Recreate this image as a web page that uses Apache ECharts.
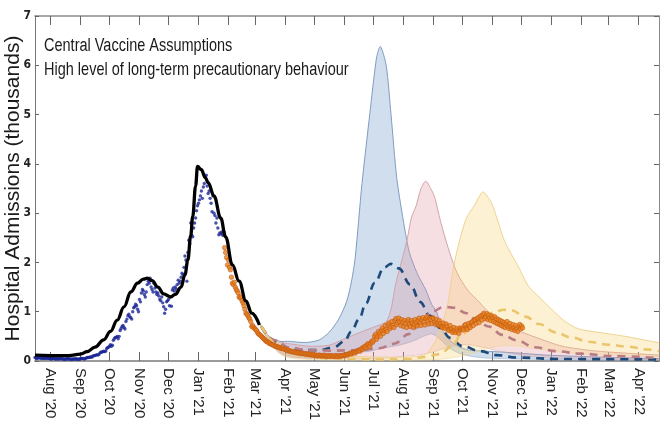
<!DOCTYPE html>
<html>
<head>
<meta charset="utf-8">
<script src="https://cdn.jsdelivr.net/npm/echarts@6/dist/echarts.min.js"></script>
<style>
  html, body { margin: 0; padding: 0; background: #fff; }
  #chart { width: 662px; height: 426px; }
</style>
</head>
<body>
<div id="chart"></div>
<script>
// Month ticks on the date axis
const monthTicks = ['2020-08-01','2020-09-01','2020-10-01','2020-11-01','2020-12-01','2021-01-01','2021-02-01',
  '2021-03-01','2021-04-01','2021-05-01','2021-06-01','2021-07-01','2021-08-01','2021-09-01','2021-10-01',
  '2021-11-01','2021-12-01','2022-01-01','2022-02-01','2022-03-01','2022-04-01'];
const monthLabels = ["Aug '20","Sep '20","Oct '20","Nov '20","Dec '20","Jan '21","Feb '21","Mar '21","Apr '21",
  "May '21","Jun '21","Jul '21","Aug '21","Sep '21","Oct '21","Nov '21","Dec '21","Jan '22","Feb '22","Mar '22","Apr '22"];

// Daily admissions (thousands), first data set, starting 2020-07-16
const earlyStart = '2020-07-16';
const earlyAdmissions = [
  0.07,0.06,0.05,0.06,0.07,0.06,0.06,0.05,0.06,0.05,0.05,0.06,0.06,0.05,0.05,0.05,
  0.05,0.04,0.05,0.05,0.05,0.04,0.04,0.05,0.04,0.04,0.05,0.05,0.04,0.04,0.04,0.03,0.04,0.05,0.04,0.04,
  0.04,0.04,0.03,0.04,0.04,0.04,0.04,0.04,0.04,0.03,0.04,
  0.05,0.05,0.05,0.05,0.04,0.05,0.06,0.07,0.07,0.07,0.08,0.08,0.08,0.10,0.11,0.11,0.12,0.13,0.12,0.13,
  0.16,0.18,0.18,0.19,0.20,0.19,0.20,0.25,0.27,0.28,
  0.30,0.33,0.30,0.32,0.42,0.45,0.48,0.48,0.50,0.45,0.50,0.62,0.66,0.70,0.72,0.68,0.65,0.80,0.85,0.92,
  0.95,0.90,0.88,0.85,1.00,1.08,1.10,1.15,1.12,1.05,1.00,
  1.25,1.20,1.38,1.45,1.42,1.35,1.30,1.40,1.55,1.62,1.58,1.68,1.50,1.45,1.40,1.58,1.48,1.40,1.35,1.38,
  1.32,1.25,1.22,1.30,1.18,1.10,0.97,1.05,1.20,1.22,
  1.25,1.12,1.30,1.11,1.44,1.48,1.42,1.50,1.46,1.55,1.64,1.58,1.62,1.70,1.78,1.75,1.90,2.13,2.05,1.62,
  2.20,2.45,2.38,2.80,2.55,2.52,2.70,2.80,2.90,3.05,3.15,
  3.20,3.27,3.35,3.45,3.30,3.53,3.60,3.73,3.77,3.55,3.40,3.45,3.30,3.20,3.03,3.35,3.00,2.95,2.80,2.90,
  2.70,2.56,2.60,2.58,2.62,2.55
];

// Daily admissions (thousands), later data set, starting 2021-01-27
const laterStart = '2021-01-27';
const laterAdmissions = [
  2.60,2.30,2.20,2.10,1.95,
  2.05,1.90,1.85,1.70,1.58,1.55,1.60,1.50,1.45,1.42,1.38,1.30,1.28,1.30,1.22,1.18,1.12,1.05,0.97,0.95,
  0.92,0.88,0.85,0.80,0.70,0.72,0.68,0.66,
  0.64,0.62,0.58,0.55,0.54,0.52,0.50,0.48,0.46,0.44,0.42,0.40,0.39,0.38,0.36,0.36,0.34,0.33,0.33,0.32,
  0.30,0.30,0.29,0.28,0.28,0.27,0.26,0.25,0.26,0.25,0.24,
  0.23,0.22,0.21,0.22,0.20,0.20,0.19,0.19,0.18,0.19,0.18,0.17,0.17,0.16,0.17,0.16,0.15,0.15,0.16,0.15,
  0.14,0.14,0.15,0.13,0.14,0.13,0.13,0.12,0.13,0.12,
  0.12,0.11,0.12,0.10,0.11,0.12,0.10,0.11,0.10,0.11,0.12,0.10,0.09,0.10,0.11,0.10,0.09,0.11,0.10,0.10,
  0.09,0.10,0.11,0.10,0.09,0.10,0.11,0.10,0.10,0.11,0.12,
  0.11,0.12,0.13,0.12,0.14,0.15,0.16,0.14,0.16,0.17,0.18,0.16,0.19,0.20,0.22,0.21,0.20,0.24,0.26,0.24,
  0.28,0.30,0.27,0.32,0.35,0.33,0.30,0.36,0.40,0.38,
  0.42,0.50,0.54,0.44,0.50,0.60,0.55,0.50,0.62,0.67,0.56,0.62,0.72,0.64,0.60,0.74,0.77,0.66,0.70,0.80,
  0.72,0.68,0.82,0.86,0.74,0.78,0.87,0.80,0.72,0.84,0.78,
  0.70,0.82,0.76,0.68,0.80,0.84,0.74,0.70,0.82,0.77,0.68,0.74,0.84,0.78,0.71,0.82,0.87,0.77,0.72,0.84,
  0.88,0.79,0.73,0.86,0.90,0.81,0.75,0.87,0.84,0.76,0.88,
  0.86,0.79,0.74,0.84,0.77,0.72,0.82,0.76,0.70,0.68,0.77,0.70,0.66,0.75,0.70,0.64,0.62,0.72,0.65,0.60,
  0.58,0.68,0.62,0.58,0.66,0.61,0.56,0.67,0.63,0.66,
  0.66,0.63,0.72,0.74,0.66,0.64,0.76,0.71,0.68,0.78,0.80,0.72,0.82,0.84,0.76,0.86,0.88,0.78,0.90,0.92,
  0.83,0.94,0.97,0.86,0.90,0.96,0.84,0.93,0.87,0.82,0.92,
  0.88,0.80,0.90,0.78,0.86,0.76,0.84,0.74,0.82,0.72,0.80,0.70,0.78,0.68,0.75,0.80,0.70,0.66,0.76,0.69,
  0.64,0.74,0.67,0.62,0.72,0.65,0.60,0.70,0.74,0.65,
  0.71,0.67
];

// Model fit to the second wave
const fitDates = ['2020-07-16','2020-08-01','2020-08-20','2020-09-01','2020-09-08','2020-09-16','2020-09-25',
  '2020-10-02','2020-10-09','2020-10-16','2020-10-23','2020-10-30','2020-11-05','2020-11-09','2020-11-14',
  '2020-11-20','2020-11-26','2020-12-03','2020-12-08','2020-12-14','2020-12-18','2020-12-21','2020-12-24',
  '2020-12-26','2020-12-29','2020-12-31','2021-01-04','2021-01-08','2021-01-11','2021-01-17','2021-01-24',
  '2021-01-29','2021-02-05','2021-02-12','2021-02-19','2021-02-25','2021-03-05'];
const fitValues = [0.12,0.11,0.11,0.14,0.19,0.28,0.43,0.60,0.83,1.10,1.40,1.58,1.66,1.68,1.63,1.50,1.36,1.30,
  1.35,1.50,1.75,2.05,2.55,2.93,3.55,3.95,3.88,3.72,3.62,3.35,2.90,2.52,1.95,1.62,1.22,0.97,0.73];

// Scenario A (blue): 90% interval
const scenADates = ['2021-03-06','2021-03-15','2021-03-26','2021-04-05','2021-04-15','2021-04-25','2021-05-06',
  '2021-05-16','2021-05-26','2021-06-03','2021-06-08','2021-06-12','2021-06-19','2021-06-27','2021-07-04',
  '2021-07-08','2021-07-14','2021-07-19','2021-07-25','2021-08-02','2021-08-07','2021-08-15','2021-08-24',
  '2021-08-30','2021-09-04','2021-09-10','2021-09-17','2021-09-27','2021-10-08','2021-10-25','2021-11-28',
  '2021-12-26','2022-02-19','2022-04-22'];
const scenALow = [0.70,0.40,0.18,0.10,0.07,0.06,0.06,0.07,0.09,0.11,0.13,0.15,0.18,0.20,0.23,0.25,0.27,0.29,
  0.31,0.35,0.38,0.44,0.52,0.55,0.50,0.40,0.27,0.16,0.10,0.06,0.04,0.03,0.02,0.02];
const scenAHigh = [0.74,0.50,0.40,0.40,0.38,0.38,0.43,0.58,0.85,1.20,1.60,2.10,3.60,5.00,6.15,6.38,6.00,5.00,
  3.70,2.70,2.20,1.78,1.44,1.15,1.00,0.63,0.43,0.29,0.22,0.20,0.16,0.12,0.08,0.05];

// Scenario B (red): 90% interval
const scenBDates = ['2021-03-06','2021-03-15','2021-03-26','2021-04-05','2021-04-25','2021-05-16','2021-06-03',
  '2021-06-30','2021-07-14','2021-07-19','2021-07-24','2021-07-31','2021-08-05','2021-08-09','2021-08-14',
  '2021-08-19','2021-08-24','2021-08-29','2021-09-02','2021-09-08','2021-09-16','2021-09-25','2021-10-06',
  '2021-10-16','2021-10-26','2021-11-08','2021-11-26','2021-12-17','2022-01-12','2022-02-17','2022-04-22'];
const scenBLow = [0.70,0.40,0.16,0.08,0.05,0.04,0.04,0.05,0.06,0.07,0.08,0.09,0.10,0.11,0.12,0.13,0.15,0.17,
  0.19,0.23,0.28,0.32,0.33,0.30,0.26,0.20,0.13,0.08,0.05,0.04,0.03];
const scenBHigh = [0.74,0.50,0.38,0.35,0.30,0.32,0.47,0.68,0.80,1.05,1.58,2.10,2.50,2.90,3.15,3.50,3.65,3.50,
  3.33,2.85,2.30,1.80,1.44,1.24,1.03,0.83,0.63,0.47,0.30,0.20,0.12];

// Scenario C (yellow): 90% interval
const scenCDates = ['2021-03-06','2021-03-15','2021-03-26','2021-04-05','2021-04-25','2021-05-26','2021-07-07',
  '2021-08-07','2021-08-24','2021-09-04','2021-09-15','2021-09-21','2021-09-28','2021-10-05','2021-10-13',
  '2021-10-22','2021-10-31','2021-11-07','2021-11-13','2021-11-18','2021-11-28','2021-12-08','2021-12-19',
  '2022-01-01','2022-01-15','2022-01-29','2022-02-19','2022-03-18','2022-04-14','2022-04-22'];
const scenCLow = [0.70,0.38,0.14,0.06,0.03,0.02,0.02,0.02,0.02,0.03,0.05,0.07,0.09,0.12,0.16,0.22,0.27,0.30,
  0.31,0.31,0.30,0.27,0.24,0.20,0.17,0.15,0.13,0.11,0.09,0.09];
const scenCHigh = [0.74,0.48,0.36,0.25,0.15,0.10,0.08,0.08,0.14,0.45,1.10,1.85,2.45,2.90,3.15,3.43,3.20,2.80,
  2.45,2.25,1.90,1.52,1.30,1.05,0.80,0.65,0.58,0.50,0.40,0.37];

// Scenario medians
const medADates = ['2021-03-07','2021-03-21','2021-04-05','2021-04-20','2021-05-06','2021-05-21','2021-06-01',
  '2021-06-08','2021-06-16','2021-06-23','2021-07-02','2021-07-12','2021-07-19','2021-07-27','2021-08-08',
  '2021-08-18','2021-08-28','2021-09-08','2021-09-18','2021-10-01','2021-10-19','2021-11-05','2021-11-26',
  '2022-01-08','2022-04-22'];
const medAValues = [0.70,0.40,0.26,0.22,0.22,0.28,0.40,0.60,0.85,1.17,1.58,1.90,1.97,1.88,1.55,1.20,0.92,
  0.67,0.47,0.30,0.20,0.12,0.07,0.04,0.03];
const medBDates = ['2021-03-07','2021-03-21','2021-04-05','2021-04-25','2021-05-16','2021-06-16','2021-07-07',
  '2021-07-22','2021-08-07','2021-08-19','2021-08-30','2021-09-12','2021-09-22','2021-10-05','2021-10-16',
  '2021-10-28','2021-11-11','2021-11-26','2021-12-14','2022-01-06','2022-01-30','2022-03-05','2022-04-22'];
const medBValues = [0.70,0.42,0.27,0.22,0.21,0.22,0.26,0.35,0.55,0.80,1.00,1.10,1.08,0.97,0.82,0.70,0.53,
  0.42,0.28,0.20,0.15,0.10,0.06];
const medCDates = ['2021-03-07','2021-03-26','2021-04-15','2021-05-16','2021-07-07','2021-08-07','2021-08-24',
  '2021-09-07','2021-09-20','2021-09-30','2021-10-18','2021-11-04','2021-11-12','2021-11-20','2021-12-05',
  '2021-12-19','2022-01-05','2022-01-21','2022-02-08','2022-03-01','2022-03-21','2022-04-11','2022-04-22'];
const medCValues = [0.70,0.30,0.12,0.05,0.03,0.04,0.08,0.14,0.29,0.55,0.83,1.00,1.04,1.03,0.90,0.75,0.58,
  0.48,0.39,0.33,0.29,0.23,0.20];

function day(s) {
  const [y, m, d] = s.split('-').map(Number);
  return new Date(y, m - 1, d).getTime();
}
function daily(start, values) {
  const [y, m, d] = start.split('-').map(Number);
  return values.map((v, i) => [new Date(y, m - 1, d + i).getTime(), v]);
}
function pairs(dates, values) {
  return dates.map((d, i) => [day(d), values[i]]);
}

const tickValues = monthTicks.map(day);
const tickText = new Map(tickValues.map((t, i) => [t, monthLabels[i]]));

// Shaded interval between the low and high curves, outlined along both edges
function band(dates, low, high, fill, edge) {
  return {
    type: 'custom', z: 1, silent: true, clip: true,
    data: dates.map((d, i) => [day(d), low[i], high[i]]),
    encode: { x: 0, y: [1, 2] },
    renderItem: function (params, api) {
      if (params.dataIndex !== 0) return null;
      const up = dates.map((d, i) => api.coord([day(d), high[i]]));
      const lo = dates.map((d, i) => api.coord([day(d), low[i]])).reverse();
      return {
        type: 'group',
        children: [
          { type: 'polygon', shape: { points: up.concat(lo), smooth: 0.25 }, style: { fill: fill } },
          { type: 'polyline', shape: { points: up, smooth: 0.25 }, style: { stroke: edge, lineWidth: 1, fill: null } },
          { type: 'polyline', shape: { points: lo, smooth: 0.25 }, style: { stroke: edge, lineWidth: 0.8, opacity: 0.6, fill: null } }
        ]
      };
    }
  };
}
function median(dates, values, color) {
  return {
    type: 'line', data: pairs(dates, values), symbol: 'none', smooth: 0.4, smoothMonotone: 'x', z: 2,
    lineStyle: { width: 2.6, color: color, type: [8, 6] }
  };
}

const chart = echarts.init(document.getElementById('chart'), null, { renderer: 'canvas' });
const xMin = day('2020-07-16');
const xMax = day('2022-04-22');

// Date axis drawn as a numeric (timestamp) axis with ticks on the first of each month
function dateAxis(position, withLabels) {
  return {
    type: 'value', min: xMin, max: xMax, position: position, scale: true,
    axisLine: { show: true, onZero: false, lineStyle: { color: position === 'top' ? '#8a8a8a' : '#7a7a7a', width: 1.6 } },
    axisTick: { show: true, inside: true, length: 9, customValues: tickValues, lineStyle: { color: '#666', width: 1 } },
    axisLabel: withLabels ? {
      customValues: tickValues, rotate: -90, margin: 7,
      fontFamily: 'Liberation Sans', fontSize: 15, color: '#222',
      formatter: v => tickText.get(v) || ''
    } : { show: false },
    splitLine: { show: false }
  };
}

chart.setOption({
  animation: false,
  backgroundColor: '#ffffff',
  grid: { left: 35, right: 3, top: 16, bottom: 65, containLabel: false, outerBoundsMode: 'none' },
  xAxis: [dateAxis('bottom', true), dateAxis('top', false)],
  yAxis: [
    {
      type: 'value', min: 0, max: 7, interval: 1, position: 'left',
      name: 'Hospital Admissions (thousands)', nameLocation: 'middle', nameGap: 11, nameMoveOverlap: false,
      nameTextStyle: { fontFamily: 'Liberation Sans', fontSize: 21, color: '#1a1a1a' },
      axisLine: { show: true, lineStyle: { color: '#777', width: 1 } },
      axisTick: { show: true, inside: true, length: 4, lineStyle: { color: '#666' } },
      axisLabel: { fontFamily: 'Liberation Sans Narrow, DejaVu Sans Condensed', fontWeight: 'bold', fontSize: 12, color: '#222', margin: 4, hideOverlap: false },
      splitLine: { show: false }
    },
    {
      type: 'value', min: 0, max: 7, interval: 1, position: 'right',
      axisLine: { show: true, lineStyle: { color: '#8a8a8a', width: 1 } },
      axisTick: { show: true, inside: true, length: 5, lineStyle: { color: '#666' } },
      axisLabel: { show: false },
      splitLine: { show: false }
    }
  ],
  graphic: [
    { type: 'text', x: 44, y: 36.5, scaleY: 1.3, z: 10,
      style: { text: 'Central Vaccine Assumptions', font: '14.5px "Liberation Sans"', fill: '#1a1a1a', verticalAlign: 'top' } },
    { type: 'text', x: 44, y: 60.5, scaleY: 1.3, z: 10,
      style: { text: 'High level of long-term precautionary behaviour', font: '14.5px "Liberation Sans"', fill: '#1a1a1a', verticalAlign: 'top' } }
  ],
  series: [
    band(scenADates, scenALow, scenAHigh, 'rgba(120,160,205,0.35)', '#7f9cc0'),
    band(scenBDates, scenBLow, scenBHigh, 'rgba(225,150,160,0.30)', '#d3a3a9'),
    band(scenCDates, scenCLow, scenCHigh, 'rgba(250,210,110,0.30)', '#efd38f'),
    median(medADates, medAValues, '#1d4a78'),
    median(medBDates, medBValues, '#b97c82'),
    median(medCDates, medCValues, '#e9c56c'),
    {
      type: 'scatter', data: daily(laterStart, laterAdmissions), symbolSize: 4.5, z: 3,
      itemStyle: { color: '#e8821a', borderColor: '#bf5414', borderWidth: 0.7 }
    },
    {
      type: 'scatter', data: daily(earlyStart, earlyAdmissions), symbolSize: 3.4, z: 3,
      itemStyle: { color: '#1a2596' }
    },
    {
      type: 'line', data: pairs(fitDates, fitValues), symbol: 'none', smooth: 0.4, smoothMonotone: 'x', z: 4,
      lineStyle: { width: 3.3, color: '#000' }
    }
  ]
});
</script>
</body>
</html>
